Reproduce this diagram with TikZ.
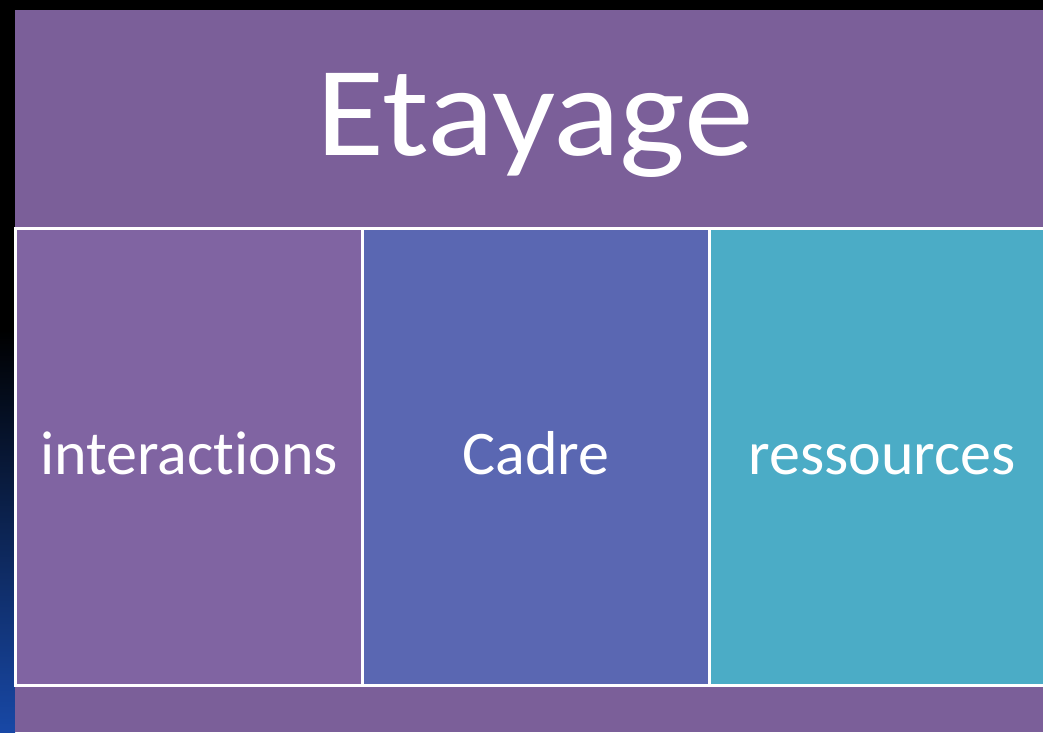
\documentclass[tikz,border=0pt]{standalone}
\usepackage{fontspec}
\setmainfont{Carlito}[Ligatures={NoCommon}]
\definecolor{slidebg}{RGB}{123,95,153}
\definecolor{boxA}{RGB}{128,100,162}
\definecolor{boxB}{RGB}{90,103,178}
\definecolor{boxC}{RGB}{75,172,198}
\definecolor{edgeblue}{RGB}{24,72,166}
\begin{document}
\begin{tikzpicture}[x=1pt,y=-1pt,
  panel/.style={draw=white,line width=3pt,outer sep=0pt,minimum height=457pt,minimum width=347pt,inner sep=0pt,anchor=north west},
  paneltext/.style={text=white,anchor=base,inner sep=0pt,font=\fontsize{62}{64}\selectfont},
  titletext/.style={text=white,anchor=base,inner sep=0pt,font=\fontsize{128}{130}\selectfont}]
  % page background and left edge gradient
  \fill[black] (0,0) rectangle (1043,732);
  \shade[top color=black,bottom color=edgeblue] (0,330) rectangle (15,732);
  \useasboundingbox (0,0) rectangle (1043,732);
  % slide area
  \fill[slidebg] (15,10) rectangle (1043,732);
  \node[titletext,xscale=1.09] (title) at (535,155) {Etayage};
  % three panels
  \begin{scope}
    \clip (0,0) rectangle (1043,732);
    \node[panel,fill=boxA] (boxinter) at (15.5,228.5) {};
    \node[panel,fill=boxB] (boxcadre) at (362.5,228.5) {};
    \node[panel,fill=boxC,minimum width=360pt] (boxres) at (709.5,228.5) {};
  \end{scope}
  \node[paneltext] (interactions) at (189,474) {interactions};
  \node[paneltext] (cadre) at (536,474) {Cadre};
  \node[paneltext] (ressources) at (882,474) {ressources};
\end{tikzpicture}
\end{document}
